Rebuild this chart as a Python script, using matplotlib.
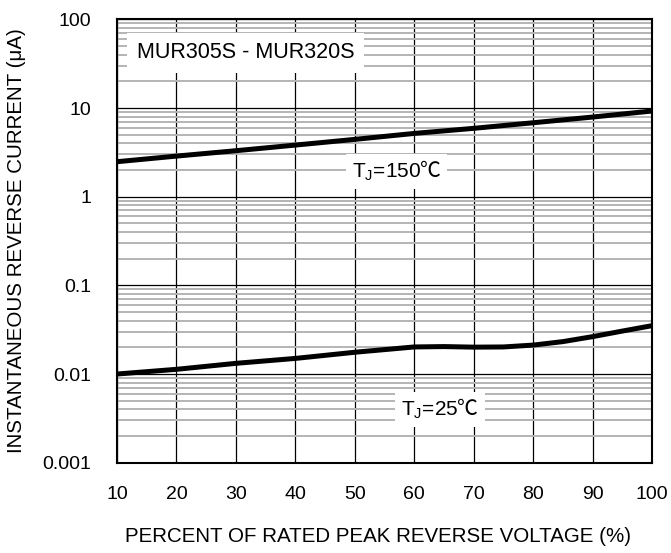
import matplotlib.pyplot as plt
from matplotlib.ticker import LogLocator, NullFormatter
from matplotlib.offsetbox import TextArea, HPacker, AnnotationBbox

# percent of rated peak reverse voltage
pct = [10, 20, 30, 40, 50, 60, 70, 80, 90, 100]
i_150 = [2.48, 2.87, 3.30, 3.82, 4.43, 5.17, 5.90, 6.82, 7.91, 9.25]

pct_25 = [10, 20, 30, 40, 50, 60, 65, 70, 75, 80, 85, 90, 95, 100]
i_25 = [0.0100, 0.0113, 0.0132, 0.0150, 0.0176, 0.0202, 0.0204, 0.0201,
        0.0202, 0.0212, 0.0232, 0.0264, 0.0305, 0.0351]

yticks = [0.001, 0.01, 0.1, 1, 10, 100]
ytick_labels = ["0.001", "0.01", "0.1", "1", "10", "100"]
xticks = [10, 20, 30, 40, 50, 60, 70, 80, 90, 100]

plt.rcParams["font.family"] = ["Liberation Sans", "DejaVu Sans"]
plt.rcParams["mathtext.fontset"] = "custom"
plt.rcParams["mathtext.rm"] = "Liberation Sans"


def temp_label(ax, t, x, y):
    main = TextArea(r"T$_\mathregular{J}$=" + t,
                    textprops=dict(fontsize=15, family="Liberation Sans"))
    deg = TextArea("\u2103", textprops=dict(fontsize=15, family="Noto Sans CJK JP"))
    box = HPacker(children=[main, deg], align="baseline", pad=0, sep=-1)
    ab = AnnotationBbox(box, (x, y), xycoords="data", frameon=True, pad=0.45,
                        bboxprops=dict(facecolor="white", edgecolor="none"))
    ab.set_zorder(4)
    ax.add_artist(ab)


def plot_data():
    fig = plt.figure(figsize=(6.71, 5.53), dpi=100)
    ax = fig.add_axes([0.1744, 0.1633, 0.7973, 0.8017])

    ax.plot(pct, i_150, color="black", lw=3.6, solid_capstyle="butt", zorder=3)
    ax.plot(pct_25, i_25, color="black", lw=3.6, solid_capstyle="butt", zorder=3)

    ax.set_yscale("log")
    ax.set_xlim(10, 100)
    ax.set_ylim(0.001, 100)
    ax.set_xticks(xticks)
    ax.set_yticks(yticks)
    ax.set_yticklabels(ytick_labels)
    ax.yaxis.set_minor_locator(LogLocator(base=10, subs=range(2, 10)))
    ax.yaxis.set_minor_formatter(NullFormatter())
    ax.tick_params(which="both", length=0)
    ax.tick_params(axis="y", pad=18.5, labelsize=14)
    ax.tick_params(axis="x", pad=16.5, labelsize=14)

    ax.set_axisbelow(True)
    ax.grid(which="minor", axis="y", color="#b4b4b4", lw=1.4)
    ax.grid(which="major", axis="both", color="black", lw=0.9)
    for s in ax.spines.values():
        s.set_linewidth(1.5)

    ax.set_xlabel("PERCENT OF RATED PEAK REVERSE VOLTAGE (%)", fontsize=14.8, va="center")
    ax.xaxis.set_label_coords(0.487, -0.1676)
    ax.set_ylabel("INSTANTANEOUS REVERSE CURRENT (\u03bcA)", fontsize=14.8, va="center")
    ax.yaxis.set_label_coords(-0.187, 0.5)

    ax.text(31.6, 42, "MUR305S - MUR320S", fontsize=15.5, ha="center", va="center",
            zorder=4, bbox=dict(boxstyle="square,pad=0.45", facecolor="white", edgecolor="none"))
    temp_label(ax, "150", 57.0, 1.91)
    temp_label(ax, "25", 64.3, 0.00396)

    fig.savefig("out.png")


if __name__ == "__main__":
    plot_data()
